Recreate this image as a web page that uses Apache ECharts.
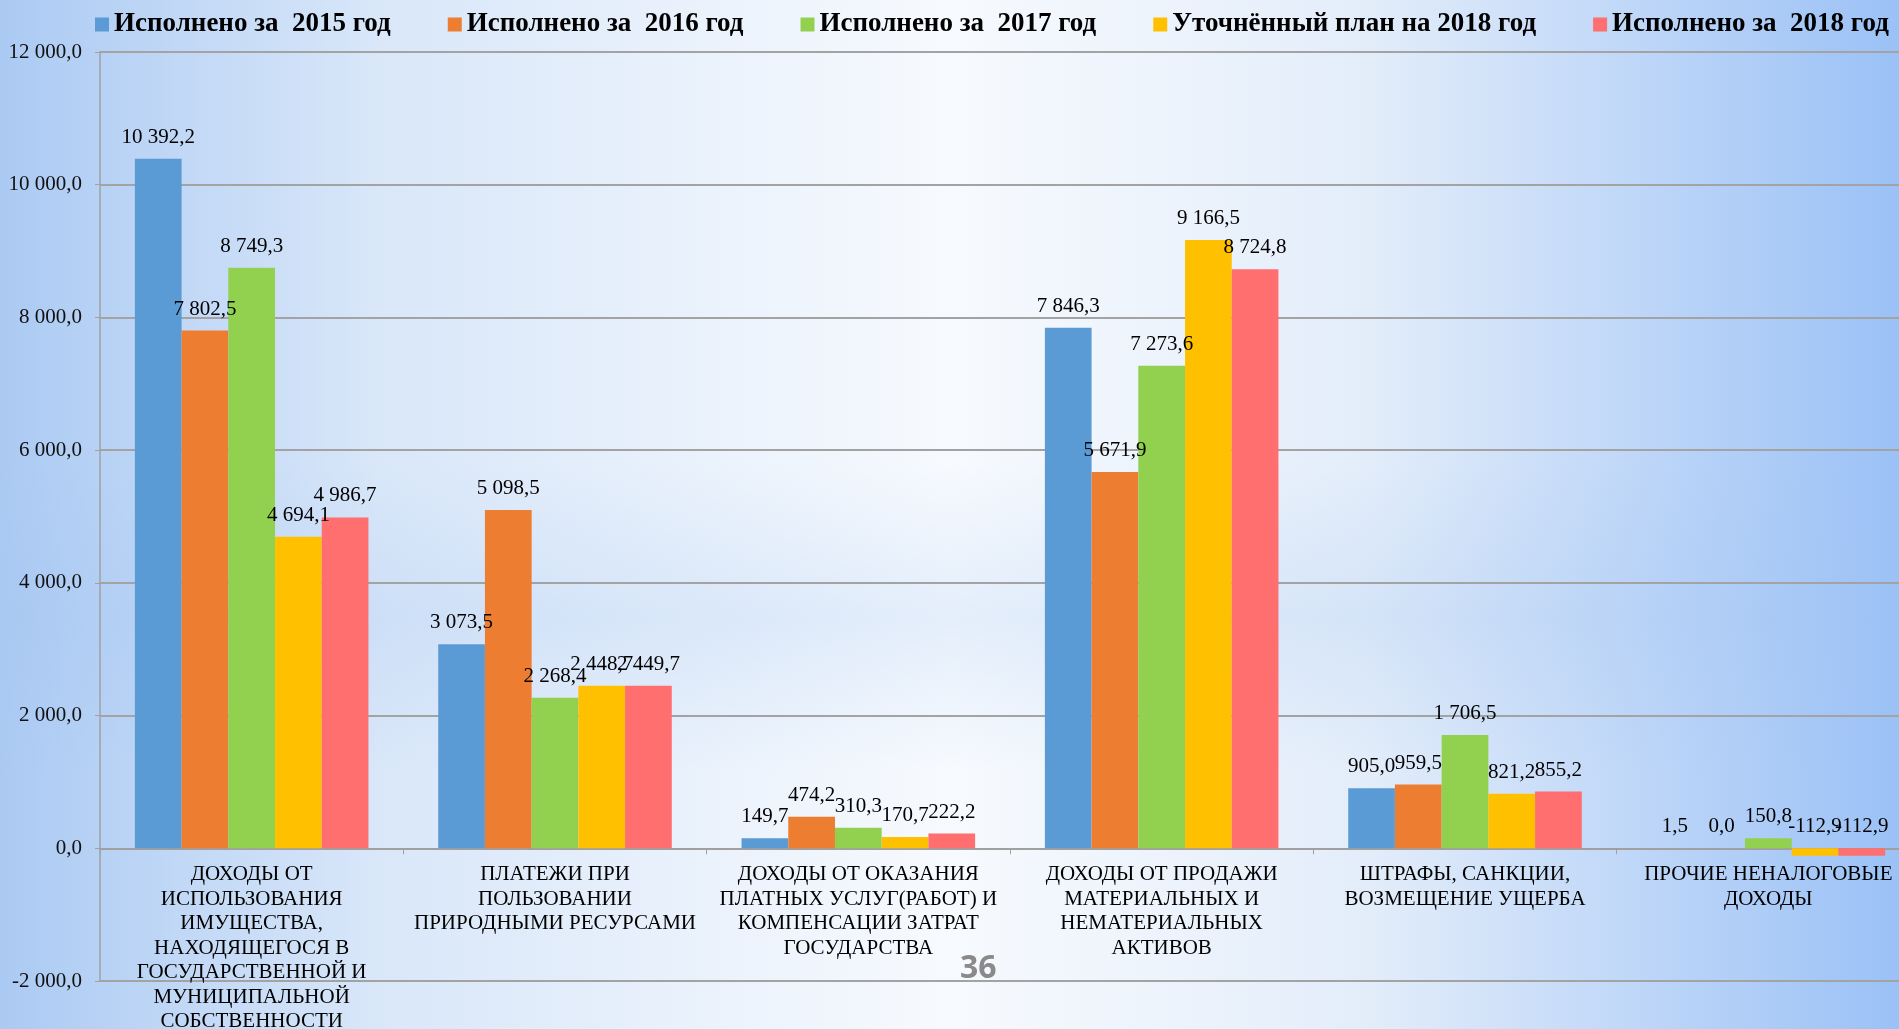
<!DOCTYPE html>
<html>
<head>
<meta charset="utf-8">
<script src="https://cdn.jsdelivr.net/npm/echarts@6/dist/echarts.min.js"></script>
<style>
  html, body { margin: 0; padding: 0; }
  #chart { width: 1899px; height: 1029px; }
</style>
</head>
<body>
<div id="chart"></div>
<script>
// категории (переносы строк как на слайде)
const categories = [
  'ДОХОДЫ ОТ\nИСПОЛЬЗОВАНИЯ\nИМУЩЕСТВА,\nНАХОДЯЩЕГОСЯ В\nГОСУДАРСТВЕННОЙ И\nМУНИЦИПАЛЬНОЙ\nСОБСТВЕННОСТИ',
  'ПЛАТЕЖИ ПРИ\nПОЛЬЗОВАНИИ\nПРИРОДНЫМИ РЕСУРСАМИ',
  'ДОХОДЫ ОТ ОКАЗАНИЯ\nПЛАТНЫХ УСЛУГ(РАБОТ) И\nКОМПЕНСАЦИИ ЗАТРАТ\nГОСУДАРСТВА',
  'ДОХОДЫ ОТ ПРОДАЖИ\nМАТЕРИАЛЬНЫХ И\nНЕМАТЕРИАЛЬНЫХ\nАКТИВОВ',
  'ШТРАФЫ, САНКЦИИ,\nВОЗМЕЩЕНИЕ УЩЕРБА',
  'ПРОЧИЕ НЕНАЛОГОВЫЕ\nДОХОДЫ'
];

const seriesNames = [
  'Исполнено за  2015 год',
  'Исполнено за  2016 год',
  'Исполнено за  2017 год',
  'Уточнённый план на 2018 год',
  'Исполнено за  2018 год'
];

const fact2015 = [10392.2, 3073.5, 149.7, 7846.3, 905.0, 1.5];
const fact2016 = [7802.5, 5098.5, 474.2, 5671.9, 959.5, 0.0];
const fact2017 = [8749.3, 2268.4, 310.3, 7273.6, 1706.5, 150.8];
const plan2018 = [4694.1, 2448.7, 170.7, 9166.5, 821.2, -112.9];
const fact2018 = [4986.7, 2449.7, 222.2, 8724.8, 855.2, -112.9];

const colors = ['#5B9BD5', '#ED7D31', '#92D050', '#FFC000', '#FF6F6F'];

const serif = '"Liberation Serif", "Times New Roman", serif';

// 12 000,0 — пробел для тысяч, запятая для дробной части
function fmt(v) {
  const s = Math.abs(v).toFixed(1).split('.');
  const int = s[0].replace(/\B(?=(\d{3})+(?!\d))/g, ' ');
  return (v < 0 ? '-' : '') + int + ',' + s[1];
}

const yMin = -2000, yMax = 12000;
const gridTop = 52, gridBottom = 48, chartH = 1029;
// подписи категорий стоят под нулевой линией, а не под низом сетки
const plotH = chartH - gridTop - gridBottom;
const zeroShift = plotH * (0 - yMin) / (yMax - yMin);

const chart = echarts.init(document.getElementById('chart'));

const allData = [fact2015, fact2016, fact2017, plan2018, fact2018];

const option = {
  backgroundColor: {
    type: 'linear', x: 0, y: 0, x2: 1, y2: 0,
    colorStops: [
      { offset: 0, color: '#abcaf3' },
      { offset: 0.2, color: '#d9e7f9' },
      { offset: 0.5, color: '#f7fafe' },
      { offset: 0.72, color: '#e3edfa' },
      { offset: 1, color: '#9bc1f6' }
    ]
  },
  color: colors,
  legend: {
    top: 6,
    left: 90,
    itemWidth: 14,
    itemHeight: 14,
    itemGap: 57,
    icon: 'rect',
    textStyle: {
      fontFamily: serif,
      fontWeight: 'bold',
      fontSize: 27,
      color: '#000'
    },
    data: seriesNames
  },
  grid: {
    left: 100,
    right: -21,
    top: gridTop,
    bottom: gridBottom,
    outerBoundsMode: 'none'
  },
  xAxis: {
    type: 'category',
    data: categories,
    offset: -zeroShift,
    axisLine: { onZero: false, lineStyle: { color: '#a0a0a0', width: 1.5 } },
    axisTick: { show: true, length: 6, lineStyle: { color: '#a0a0a0' } },
    axisLabel: {
      interval: 0,
      margin: 14,
      fontFamily: serif,
      fontSize: 21,
      lineHeight: 24.5,
      color: '#000',
      align: 'center'
    }
  },
  yAxis: {
    type: 'value',
    min: yMin,
    max: yMax,
    interval: 2000,
    axisLine: { show: true, lineStyle: { color: '#a0a0a0', width: 1.5 } },
    axisTick: { show: true, length: 5, lineStyle: { color: '#a0a0a0' } },
    splitLine: { lineStyle: { color: '#a3a3a3', width: 2 } },
    axisLabel: {
      margin: 18,
      fontFamily: serif,
      fontSize: 21,
      color: '#111',
      formatter: fmt
    }
  },
  series: seriesNames.map((name, i) => ({
    name: name,
    type: 'bar',
    data: allData[i],
    barGap: '0%',
    barCategoryGap: '23%',
    label: {
      show: true,
      position: 'top',
      distance: 11,
      fontFamily: serif,
      fontSize: 21,
      color: '#000',
      formatter: p => fmt(p.value)
    }
  })),
  graphic: [{
    // голубоватая дымка фона посередине слайда
    type: 'rect',
    z: -10,
    silent: true,
    shape: { x: 0, y: 0, width: 1899, height: 1029 },
    style: {
      fill: {
        type: 'linear', x: 0, y: 0, x2: 0, y2: 1,
        colorStops: [
          { offset: 0, color: 'rgba(160,195,240,0)' },
          { offset: 0.45, color: 'rgba(160,195,240,0)' },
          { offset: 0.6, color: 'rgba(160,195,240,0.22)' },
          { offset: 0.75, color: 'rgba(160,195,240,0)' },
          { offset: 1, color: 'rgba(160,195,240,0)' }
        ]
      }
    }
  }, {
    type: 'text',
    left: 960,
    top: 953,
    style: {
      text: '36',
      font: 'bold 32px "Open Sans", sans-serif',
      fill: '#8a8a8a'
    }
  }]
};

chart.setOption(option);
</script>
</body>
</html>
